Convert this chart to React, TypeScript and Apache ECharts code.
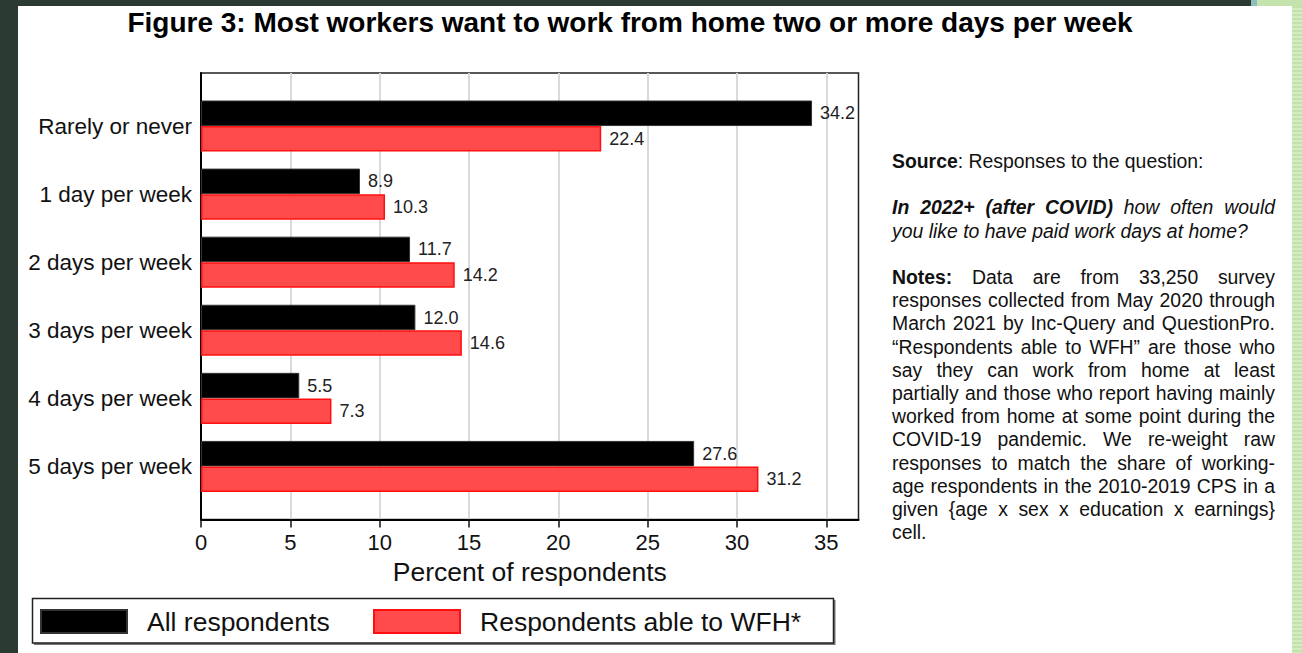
import React, { useEffect, useRef } from "react";
import * as echarts from "echarts";

const categories = [
  "Rarely or never",
  "1 day per week",
  "2 days per week",
  "3 days per week",
  "4 days per week",
  "5 days per week",
];
const allRespondents = [34.2, 8.9, 11.7, 12.0, 5.5, 27.6];
const ableToWFH = [22.4, 10.3, 14.2, 14.6, 7.3, 31.2];
const xTicks = [0, 5, 10, 15, 20, 25, 30, 35];
const xMax = 36.8;

const seriesNames = ["All respondents", "Respondents able to WFH*"];
const titleText = "Figure 3: Most workers want to work from home two or more days per week";
const xAxisName = "Percent of respondents";

type Run = [string, string];
const noteLines: { row: number; justify: boolean; runs: Run[] }[] = [
  { row: 0, justify: false, runs: [["b", "Source"], ["n", ": Responses to the question:"]] },
  { row: 2, justify: true, runs: [["bi", "In 2022+ (after COVID)"], ["i", " how often would"]] },
  { row: 3, justify: false, runs: [["i", "you like to have paid work days at home?"]] },
  { row: 5, justify: true, runs: [["b", "Notes:"], ["n", " Data are from 33,250 survey"]] },
  { row: 6, justify: true, runs: [["n", "responses collected from May 2020 through"]] },
  { row: 7, justify: true, runs: [["n", "March 2021 by Inc-Query and QuestionPro."]] },
  { row: 8, justify: true, runs: [["n", "\u201CRespondents able to WFH\u201D are those who"]] },
  { row: 9, justify: true, runs: [["n", "say they can work from home at least"]] },
  { row: 10, justify: true, runs: [["n", "partially and those who report having mainly"]] },
  { row: 11, justify: true, runs: [["n", "worked from home at some point during the"]] },
  { row: 12, justify: true, runs: [["n", "COVID-19 pandemic. We re-weight raw"]] },
  { row: 13, justify: true, runs: [["n", "responses to match the share of working-"]] },
  { row: 14, justify: true, runs: [["n", "age respondents in the 2010-2019 CPS in a"]] },
  { row: 15, justify: true, runs: [["n", "given {age x sex x education x earnings}"]] },
  { row: 16, justify: false, runs: [["n", "cell."]] },
];

const FAMILY = '"Liberation Sans", Arial, sans-serif';
const NOTE_FONT = 19.4;
const NOTE_LEFT = 892;
const NOTE_RIGHT = 1275;
const NOTE_TOP = 161;
const NOTE_LH = 23.2;

function buildNotes(): any[] {
  const canvas = document.createElement("canvas");
  const ctx = canvas.getContext("2d")!;
  const fontOf = (s: string) =>
    `${s.includes("i") ? "italic " : ""}${s.includes("b") ? "bold " : ""}${NOTE_FONT}px ${FAMILY}`;
  const els: any[] = [];
  noteLines.forEach((line) => {
    const words: { t: string; s: string }[][] = [[]];
    line.runs.forEach(([s, t]) => {
      t.split(" ").forEach((p, k) => {
        if (k > 0) words.push([]);
        if (p) words[words.length - 1].push({ t: p, s });
      });
    });
    const ws = words.filter((w) => w.length > 0);
    const widths = ws.map((w) =>
      w.reduce((a, r) => {
        ctx.font = fontOf(r.s);
        return a + ctx.measureText(r.t).width;
      }, 0)
    );
    const total = widths.reduce((a, b) => a + b, 0);
    ctx.font = fontOf("n");
    const sp = ctx.measureText(" ").width;
    const gap =
      line.justify && ws.length > 1 ? (NOTE_RIGHT - NOTE_LEFT - total) / (ws.length - 1) : sp;
    let x = NOTE_LEFT;
    const y = NOTE_TOP + line.row * NOTE_LH;
    ws.forEach((w, i) => {
      let xx = x;
      w.forEach((r) => {
        ctx.font = fontOf(r.s);
        els.push({
          type: "text",
          x: xx,
          y,
          style: {
            text: r.t,
            fontSize: NOTE_FONT,
            fontFamily: FAMILY,
            fontWeight: r.s.includes("b") ? "bold" : "normal",
            fontStyle: r.s.includes("i") ? "italic" : "normal",
            fill: "#111",
            align: "left",
            verticalAlign: "middle",
          },
        });
        xx += ctx.measureText(r.t).width;
      });
      x += widths[i] + gap;
    });
  });
  return els;
}

export default function App() {
  const ref = useRef<HTMLDivElement>(null);

  useEffect(() => {
    if (!ref.current) return;
    const chart = echarts.init(ref.current, undefined, { renderer: "svg" });
    const plotLeft = 201;
    const plotWidth = 657.5;
    const labelStyle = {
      show: true,
      position: "right",
      distance: 8,
      fontSize: 18,
      color: "#222",
      formatter: (p: any) => Number(p.value).toFixed(1),
    };
    const option: any = {
      animation: false,
      textStyle: { fontFamily: FAMILY },
      grid: [
        { left: plotLeft, top: 73, width: plotWidth, height: 446.5, show: true, borderColor: "#222", borderWidth: 1.5, backgroundColor: "transparent" },
        { left: plotLeft, top: 92, width: plotWidth, height: 408.5 },
      ],
      xAxis: [
        {
          gridIndex: 0,
          type: "value",
          min: 0,
          max: xMax,
          interval: 5,
          axisLine: { show: true, onZero: false, lineStyle: { color: "#000", width: 2 } },
          axisTick: { show: true, length: 8, customValues: xTicks, lineStyle: { color: "#111", width: 1.5 } },
          axisLabel: { fontSize: 22, color: "#111", margin: 12, customValues: xTicks },
          splitLine: { show: true, lineStyle: { color: "#dadada", width: 2 } },
          name: xAxisName,
          nameLocation: "middle",
          nameGap: 37,
          nameTextStyle: { fontSize: 26.5, color: "#111" },
        },
        { gridIndex: 1, type: "value", min: 0, max: xMax, show: false },
      ],
      yAxis: [
        {
          gridIndex: 0,
          type: "value",
          min: 0,
          max: 1,
          axisLine: { show: true, onZero: false, lineStyle: { color: "#000", width: 2 } },
          axisTick: { show: false },
          axisLabel: { show: false },
          splitLine: { show: false },
        },
        {
          gridIndex: 1,
          type: "category",
          data: categories,
          inverse: true,
          axisLine: { show: false },
          axisTick: { show: false },
          axisLabel: { fontSize: 22.5, color: "#111", margin: 9 },
        },
      ],
      legend: [
        {
          data: [seriesNames[0]],
          left: 40,
          top: 608,
          padding: 0,
          itemWidth: 86,
          itemHeight: 23,
          icon: "rect",
          textStyle: { fontSize: 26.5, color: "#111", padding: [0, 0, 0, 15] },
        },
        {
          data: [seriesNames[1]],
          left: 373,
          top: 608,
          padding: 0,
          itemWidth: 86,
          itemHeight: 23,
          icon: "rect",
          textStyle: { fontSize: 26.5, color: "#111", padding: [0, 0, 0, 15] },
        },
      ],
      series: [
        {
          name: seriesNames[0],
          type: "bar",
          xAxisIndex: 1,
          yAxisIndex: 1,
          data: allRespondents,
          barGap: "0%",
          barCategoryGap: "25%",
          itemStyle: { color: "#000", borderColor: "#333", borderWidth: 1 },
          label: labelStyle,
        },
        {
          name: seriesNames[1],
          type: "bar",
          xAxisIndex: 1,
          yAxisIndex: 1,
          data: ableToWFH,
          barGap: "0%",
          barCategoryGap: "25%",
          itemStyle: { color: "#ff4b4b", borderColor: "#ff0f0f", borderWidth: 1.5 },
          label: labelStyle,
        },
      ],
      graphic: [
        {
          type: "text",
          x: 630,
          y: 22,
          style: {
            text: titleText,
            fontSize: 28,
            fontWeight: "bold",
            fontFamily: FAMILY,
            fill: "#000",
            align: "center",
            verticalAlign: "middle",
          },
        },
        {
          type: "polyline",
          shape: { points: [[34, 644], [834.5, 644], [834.5, 600]] },
          style: { stroke: "#777", lineWidth: 2, fill: "none" },
        },
        {
          type: "rect",
          shape: { x: 32.5, y: 598.5, width: 801, height: 44.5 },
          style: { fill: "none", stroke: "#222", lineWidth: 1.5 },
        },
        ...buildNotes(),
      ],
    };
    chart.setOption(option);
    return () => chart.dispose();
  }, []);

  return (
    <div style={{ position: "relative", width: 1302, height: 653, background: "#2b3a33", overflow: "hidden" }}>
      <style>{`body{margin:0}`}</style>
      <div style={{ position: "absolute", left: 1251, top: 0, width: 6, height: 6, background: "#8dbdbb" }} />
      <div style={{ position: "absolute", left: 1257, top: 0, width: 45, height: 6, background: "#c4e3ad" }} />
      <div
        style={{
          position: "absolute",
          left: 1292,
          top: 6,
          width: 10,
          height: 647,
          background: "repeating-linear-gradient(180deg, #c2e2aa 0px, #c2e2aa 2px, #d4ecc3 2px, #d4ecc3 4px)",
        }}
      />
      <div style={{ position: "absolute", left: 18, top: 6, width: 1274, height: 647, background: "#ffffff" }} />
      <div ref={ref} style={{ position: "absolute", left: 0, top: 0, width: 1302, height: 653 }} />
    </div>
  );
}
